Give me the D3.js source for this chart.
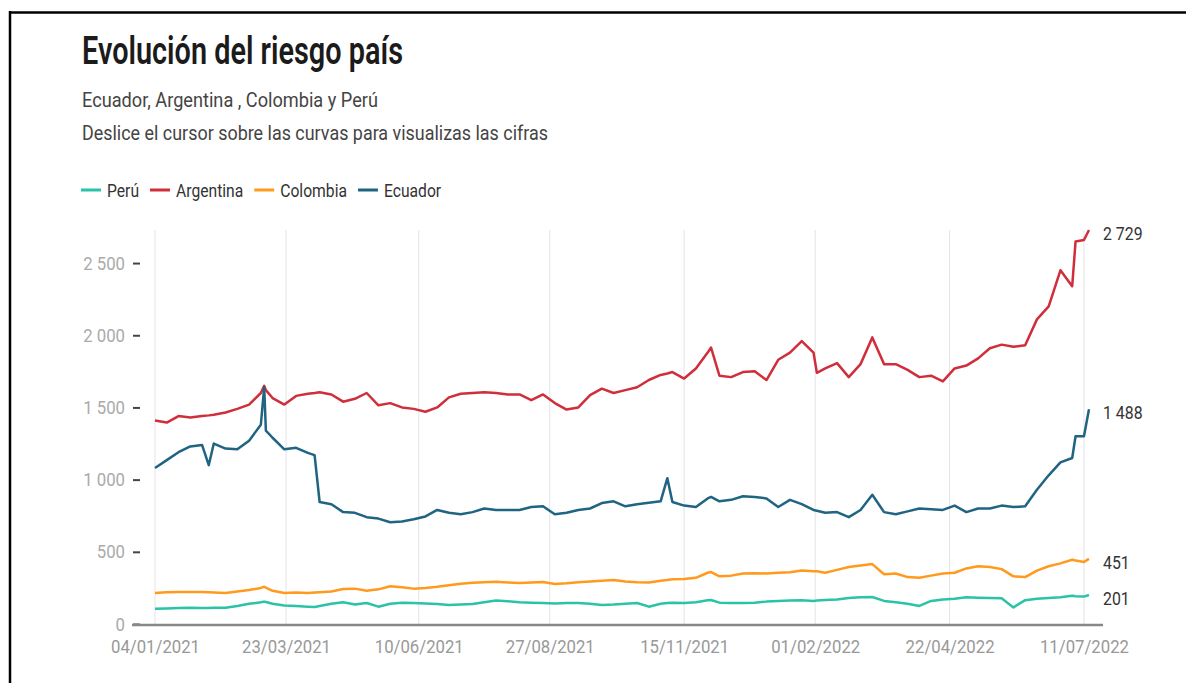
<!doctype html>
<html>
<head>
<meta charset="utf-8">
<style>
body { margin: 0; background: #fff; }
svg text { font-family: Roboto, "Noto Sans", sans-serif; }
</style>
<script src="https://cdnjs.cloudflare.com/ajax/libs/d3/7.8.5/d3.min.js"></script>
</head>
<body>
<div id="chart"></div>
<script>
// riesgo país, puntos semanales (más algunos días de picos)
var dates = ["2021-01-04","2021-01-11","2021-01-18","2021-01-25","2021-02-01","2021-02-05","2021-02-08","2021-02-15","2021-02-22","2021-03-01",
  "2021-03-08","2021-03-10","2021-03-11","2021-03-15","2021-03-22","2021-03-29","2021-04-05","2021-04-09","2021-04-12","2021-04-19",
  "2021-04-26","2021-05-03","2021-05-10","2021-05-17","2021-05-24","2021-05-31","2021-06-07","2021-06-14","2021-06-21","2021-06-28",
  "2021-07-05","2021-07-12","2021-07-19","2021-07-26","2021-08-02","2021-08-09","2021-08-16","2021-08-23","2021-08-30","2021-09-06",
  "2021-09-13","2021-09-20","2021-09-27","2021-10-04","2021-10-11","2021-10-18","2021-10-25","2021-11-01","2021-11-05","2021-11-08",
  "2021-11-15","2021-11-22","2021-11-29","2021-12-01","2021-12-06","2021-12-13","2021-12-20","2021-12-27","2022-01-03","2022-01-10",
  "2022-01-17","2022-01-24","2022-01-31","2022-02-02","2022-02-07","2022-02-14","2022-02-21","2022-02-28","2022-03-07","2022-03-14",
  "2022-03-21","2022-03-28","2022-04-04","2022-04-11","2022-04-18","2022-04-25","2022-05-02","2022-05-09","2022-05-16","2022-05-23",
  "2022-05-30","2022-06-06","2022-06-13","2022-06-20","2022-06-27","2022-07-04","2022-07-06","2022-07-11","2022-07-14"];

var peru = [105,108,110,112,110,110,112,112,125,140, 150,155,152,140,128,125,120,118,125,140,
  150,135,145,120,140,148,145,142,138,132, 135,138,150,162,158,150,148,145,142,145,
  145,140,132,135,140,145,120,140,145,148, 145,150,165,166,148,145,145,148,155,160,
  162,165,160,162,166,170,180,185,187,160, 150,140,125,160,170,175,185,182,180,178,
  115,165,175,180,185,195,192,190,201];

var argentina = [1410,1395,1440,1430,1440,1445,1450,1465,1490,1520, 1600,1650,1620,1565,1520,1580,1595,1600,1605,1590,
  1540,1560,1600,1515,1530,1500,1490,1470,1500,1570, 1595,1600,1605,1600,1590,1590,1550,1590,1530,1485,
  1500,1585,1630,1600,1620,1640,1690,1725,1735,1745, 1700,1770,1880,1915,1720,1710,1745,1750,1690,1830,
  1880,1960,1880,1740,1770,1807,1710,1800,1985,1800, 1800,1760,1710,1720,1680,1770,1790,1840,1910,1935,
  1920,1930,2110,2200,2450,2340,2650,2660,2729];

var colombia = [215,220,222,222,222,220,218,215,225,235, 250,258,252,230,215,218,215,218,220,225,
  242,245,230,240,262,255,245,250,258,268, 278,285,290,292,288,284,288,291,277,282,
  290,295,300,305,295,290,288,300,305,310, 312,320,355,360,330,335,350,352,350,355,
  358,370,365,365,355,375,395,405,415,345, 350,325,320,335,350,355,385,400,395,380,
  330,325,370,400,420,445,440,430,451];

var ecuador = [1080,1135,1190,1230,1240,1100,1250,1215,1210,1270, 1380,1640,1340,1290,1210,1220,1185,1170,845,830,
  775,770,740,730,705,710,725,745,790,770, 760,775,800,790,790,790,810,815,760,770,
  790,800,838,850,815,830,840,850,1010,845, 820,810,870,880,850,860,885,880,870,810,
  860,830,790,785,770,775,740,790,895,775, 760,780,800,795,790,820,775,800,800,820,
  810,815,930,1030,1120,1150,1300,1300,1488];

var names = ["Perú","Argentina","Colombia","Ecuador"];
var colors = ["#2bc3a7","#cf2e3a","#ff9a1c","#1f6482"];
var xTicks = ["2021-01-04","2021-03-23","2021-06-10","2021-08-27","2021-11-15","2022-02-01","2022-04-22","2022-07-11"];
var yTicks = [0,500,1000,1500,2000,2500];

var width = 1186, height = 683;
var parse = d3.timeParse("%Y-%m-%d");
var locale = d3.formatLocale({decimal: ",", thousands: " ", grouping: [3], currency: ["", ""]});
var fmt = locale.format(",d");

var series = [peru, argentina, colombia, ecuador].map(function (vals, i) {
  return { name: names[i], color: colors[i],
           values: vals.map(function (v, j) { return { date: parse(dates[j]), value: v }; }) };
});

var svg = d3.select("#chart").append("svg")
  .attr("width", width).attr("height", height);

// squeeze text horizontally, the original is narrow
function squeeze(sel, k) {
  sel.each(function () {
    var w = this.getComputedTextLength();
    d3.select(this).attr("textLength", w * k).attr("lengthAdjust", "spacingAndGlyphs");
  });
}

// frame
svg.append("line").attr("x1", 10).attr("x2", width).attr("y1", 12.5).attr("y2", 12.5)
  .attr("stroke", "#000").attr("stroke-width", 2.5);
svg.append("line").attr("x1", 10).attr("x2", 10).attr("y1", 11).attr("y2", height)
  .attr("stroke", "#000").attr("stroke-width", 2.5);

// titles
svg.append("text").attr("x", 82).attr("y", 64)
  .attr("font-size", 39).attr("font-weight", 600).attr("fill", "#1b1b1b")
  .attr("textLength", 321).attr("lengthAdjust", "spacingAndGlyphs")
  .text("Evolución del riesgo país");
svg.append("text").attr("x", 82).attr("y", 107)
  .attr("font-size", 20).attr("fill", "#444")
  .attr("textLength", 296).attr("lengthAdjust", "spacingAndGlyphs")
  .text("Ecuador, Argentina , Colombia y Perú");
svg.append("text").attr("x", 82).attr("y", 140)
  .attr("font-size", 20).attr("fill", "#444")
  .attr("textLength", 466).attr("lengthAdjust", "spacingAndGlyphs")
  .text("Deslice el cursor sobre las curvas para visualizas las cifras");

// legend
var lx = 81;
series.forEach(function (s) {
  svg.append("line").attr("x1", lx).attr("x2", lx + 20).attr("y1", 190).attr("y2", 190)
    .attr("stroke", s.color).attr("stroke-width", 3);
  var t = svg.append("text").attr("x", lx + 26).attr("y", 196.5)
    .attr("font-size", 18).attr("fill", "#333").text(s.name);
  var w = t.node().getComputedTextLength() * 0.87;
  t.attr("textLength", w).attr("lengthAdjust", "spacingAndGlyphs");
  lx += 26 + w + 11;
});

// scales
var x = d3.scaleTime()
  .domain([parse(dates[0]), parse(dates[dates.length - 1])])
  .range([155, 1089]);
var y = d3.scaleLinear()
  .domain([0, d3.max(argentina)])
  .range([624, 230]);

// vertical grid + x labels
var xt = xTicks.map(parse);
svg.append("g").selectAll("line").data(xt).enter().append("line")
  .attr("x1", function (d) { return x(d); }).attr("x2", function (d) { return x(d); })
  .attr("y1", 230).attr("y2", 624)
  .attr("stroke", "#e4e4e4").attr("stroke-width", 1);

var xa = svg.append("g").attr("transform", "translate(0,624)")
  .call(d3.axisBottom(x).tickValues(xt).tickFormat(d3.timeFormat("%d/%m/%Y")).tickSize(0).tickPadding(16));
xa.select(".domain").remove();
xa.selectAll("text").attr("font-size", 19).attr("fill", "#999").attr("font-family", "Roboto").attr("dy", "0.71em");
squeeze(xa.selectAll("text"), 0.88);

// y axis
var ya = svg.append("g").attr("transform", "translate(140,0)")
  .call(d3.axisLeft(y).tickValues(yTicks).tickFormat(fmt).tickSize(7).tickPadding(8));
ya.select(".domain").remove();
ya.selectAll(".tick line").attr("stroke", "#444").attr("stroke-width", 2);
ya.selectAll("text").attr("font-size", 19).attr("fill", "#aaa").attr("font-family", "Roboto");
squeeze(ya.selectAll("text"), 0.88);

// baseline
svg.append("line").attr("x1", 132).attr("x2", 1103).attr("y1", y(0) + 1).attr("y2", y(0) + 1)
  .attr("stroke", "#888").attr("stroke-width", 2.5);

// lines
var line = d3.line()
  .x(function (d) { return x(d.date); })
  .y(function (d) { return y(d.value); });

svg.append("g").selectAll("path").data(series).enter().append("path")
  .attr("d", function (d) { return line(d.values); })
  .attr("fill", "none")
  .attr("stroke", function (d) { return d.color; })
  .attr("stroke-width", 2.5)
  .attr("stroke-linejoin", "round");

// end labels
var ends = svg.append("g").selectAll("text").data(series).enter().append("text")
  .attr("x", 1103)
  .attr("y", function (d) { return y(d.values[d.values.length - 1].value) + 4; })
  .attr("dy", "0.35em")
  .attr("font-size", 18).attr("fill", "#333")
  .text(function (d) { return fmt(d.values[d.values.length - 1].value); });
squeeze(ends, 0.88);
</script>
</body>
</html>
